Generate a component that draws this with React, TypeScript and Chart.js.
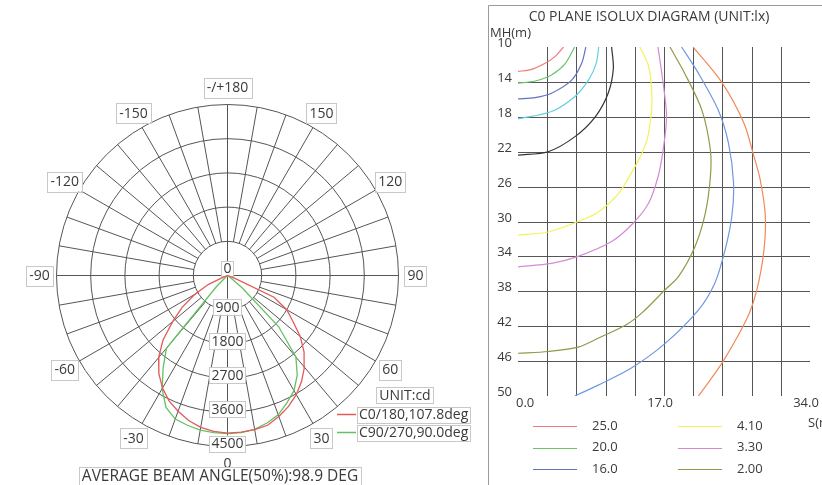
import React, { useEffect, useRef } from "react";
import { Chart, registerables } from "chart.js";

Chart.register(...registerables);

const FONT = '"Open Sans", "Noto Sans", "DejaVu Sans", sans-serif';
const TEXT = "#3a3a3a";
const GRID = "#555555";
const BOX_BORDER = "#c8c8c8";

// ---------------- Polar luminous intensity diagram ----------------
const POLAR_ANGLES = [
  -90, -85, -80, -75, -70, -65, -60, -55, -50, -45, -40, -35, -30, -25, -20, -15, -10, -5,
  0, 5, 10, 15, 20, 25, 30, 35, 40, 45, 50, 55, 60, 65, 70, 75, 80, 85, 90,
];
const C0_180 = [
  0, 0, 0, 0, 100, 550, 1000, 1450, 1880, 2400, 2820, 3150, 3420, 3640, 3800, 3950, 4060, 4120,
  4150, 4140, 4120, 4080, 3950, 3800, 3620, 3400, 3150, 2850, 2500, 2100, 1800, 1350, 150, 0, 0, 0, 0,
];
const C90_270 = [
  0, 0, 0, 0, 0, 0, 0, 0, 30, 400, 2500, 2950, 3440, 3830, 4020, 4080, 4130, 4150,
  4160, 4150, 4110, 4020, 3900, 3700, 3500, 3200, 2800, 1900, 500, 100, 0, 0, 0, 0, 0, 0, 0,
];
const RING_TICKS = [900, 1800, 2700, 3600, 4500];
const ANGLE_TICKS = [0, 30, 60, 90, 120, 150, 180, -150, -120, -90, -60, -30];
const ANGLE_TICK_LABELS = ["0", "30", "60", "90", "120", "150", "-/+180", "-150", "-120", "-90", "-60", "-30"];
const POLAR_SERIES = ["C0/180,107.8deg", "C90/270,90.0deg"];
const POLAR_COLORS = ["#e35a5a", "#62c262"];
const POLAR_UNIT = "UNIT:cd";
const BEAM_TEXT = "AVERAGE BEAM ANGLE(50%):98.9 DEG";

// ---------------- Isolux diagram ----------------
const ISO_LEVELS = ["25.0", "20.0", "16.0", "12.0", "8.00", "4.10", "3.30", "2.00", "1.60", "1.00"];
const ISO_COLORS = ["#f07a7a", "#6cc46c", "#6272c2", "#62cfe0", "#333333", "#f2f25a", "#d58ad5", "#8f9a48", "#6e98e0", "#f08a5a"];
const ISO_25 = [[0, 12.8], [1.5, 12.6], [3.1, 11.9], [4.3, 11.1], [5.3, 10.0]];
const ISO_20 = [[0, 14.15], [2, 13.9], [3.9, 13.2], [5.5, 11.9], [6.6, 10.0]];
const ISO_16 = [[0, 15.95], [2, 15.8], [3.9, 15.3], [6.25, 13.8], [7.4, 11.9], [7.9, 10.0]];
const ISO_12 = [[0, 18.25], [3.9, 17.4], [6.6, 15.7], [8.2, 13.8], [9.1, 11.9], [9.4, 10.0]];
const ISO_8 = [[0, 22.4], [3.5, 22.0], [6.6, 20.3], [9, 18], [10.5, 15.3], [11.1, 12.5], [10.9, 10.0]];
const ISO_4_1 = [[0, 31.55], [3.5, 31.2], [7, 30], [9.35, 28.9], [11.7, 26.8], [13.4, 24.1], [14.6, 21.8], [15.2, 19.9], [15.6, 16.1], [15.2, 12.2], [14.2, 10.0]];
const ISO_3_3 = [[0, 35.2], [3.9, 34.8], [7, 34], [10.9, 32.3], [13.4, 30.2], [15.2, 27.9], [16.3, 24.9], [16.9, 21.8], [17.3, 18], [16.9, 14.15], [16.3, 10.0]];
const ISO_2 = [[0, 45.1], [3.5, 44.9], [7, 44.4], [9.7, 43.2], [12.5, 41.9], [14.4, 40.5], [17.1, 37.85], [18.7, 36.3], [20.6, 32.9], [21.8, 29.1], [22.4, 24.9], [22.4, 21.8], [21.4, 17.2], [19.4, 13], [17.7, 10.0]];
const ISO_1_6 = [[6.6, 50], [9.35, 48.75], [13.2, 46.8], [17.1, 44], [21, 40.15], [22.9, 37.1], [24.1, 33.3], [24.9, 29.4], [25.1, 25.6], [24.5, 21], [23.3, 17.2], [21, 13], [19.05, 10.0]];
const ISO_1 = [[21, 50], [22.5, 48], [23.9, 46], [25.5, 43.3], [26.9, 40.6], [27.8, 37.9], [28.6, 33.6], [28.8, 29.4], [28.2, 25.2], [27.4, 22.3], [26.3, 18.7], [23.7, 14], [20.4, 10.0]];
const ISO_CURVES = [ISO_25, ISO_20, ISO_16, ISO_12, ISO_8, ISO_4_1, ISO_3_3, ISO_2, ISO_1_6, ISO_1];
const MH_TICKS = [10, 14, 18, 22, 26, 30, 34, 38, 42, 46, 50];
const S_GRID = [3.4, 6.8, 10.2, 13.6, 17.0, 20.4, 23.8, 27.2, 30.6];
const S_TICKS = [0, 17, 34];
const S_TICK_LABELS = ["0.0", "17.0", "34.0"];
const ISO_TITLE = "C0 PLANE ISOLUX DIAGRAM (UNIT:lx)";

// ---------------- layout ----------------
const POLAR_W = 485;
const H = 485;
const ISO_W = 337;
const PC_X = 227.5;
const PC_Y = 275.5;
const PX_PER_CD = 171 / 4500;
const LABEL_R = 188 / PX_PER_CD;

function drawBox(ctx: CanvasRenderingContext2D, text: string, x: number, y: number, padX: number, h: number, border: boolean, align: "center" | "left" = "center") {
  const tw = ctx.measureText(text).width;
  const w = tw + padX * 2;
  const left = align === "center" ? x - w / 2 : x;
  ctx.fillStyle = "#ffffff";
  ctx.fillRect(left, y - h / 2, w, h);
  if (border) {
    ctx.strokeStyle = BOX_BORDER;
    ctx.lineWidth = 1;
    ctx.strokeRect(Math.round(left) + 0.5, Math.round(y - h / 2) + 0.5, Math.round(w), Math.round(h));
  }
  ctx.fillStyle = TEXT;
  ctx.textAlign = "left";
  ctx.textBaseline = "middle";
  ctx.fillText(text, left + padX, y + 1);
}

const polarDecor = {
  id: "polarDecor",
  beforeDatasetsDraw(chart: any) {
    const ctx: CanvasRenderingContext2D = chart.ctx;
    const xs = chart.scales.x;
    const ys = chart.scales.y;
    const P = (r: number, deg: number) => {
      const t = (deg * Math.PI) / 180;
      return [xs.getPixelForValue(r * Math.sin(t)), ys.getPixelForValue(-r * Math.cos(t))];
    };
    const cx = xs.getPixelForValue(0);
    const cy = ys.getPixelForValue(0);
    const rmax = RING_TICKS[RING_TICKS.length - 1];
    ctx.save();
    ctx.strokeStyle = GRID;
    ctx.lineWidth = 1;
    for (const v of RING_TICKS) {
      const r = xs.getPixelForValue(v) - cx;
      ctx.beginPath();
      ctx.arc(cx, cy, r, 0, Math.PI * 2);
      ctx.stroke();
    }
    for (let a = 0; a < 360; a += 10) {
      const [x0, y0] = P(a % 90 === 0 ? 0 : RING_TICKS[0], a);
      const [x1, y1] = P(rmax, a);
      ctx.beginPath();
      ctx.moveTo(x0, y0);
      ctx.lineTo(x1, y1);
      ctx.stroke();
    }
    ctx.font = `14px ${FONT}`;
    drawBox(ctx, "0", cx, cy - 7, 2, 15, true);
    RING_TICKS.forEach((v) => {
      const [px, py] = P(v, 0);
      drawBox(ctx, String(v), px, py - 3, 2, 16, true);
    });
    ANGLE_TICKS.forEach((a, i) => {
      const [px, py] = P(LABEL_R, a);
      drawBox(ctx, ANGLE_TICK_LABELS[i], px, py, 3, 20, a !== 0);
    });
    ctx.restore();
  },
  afterDatasetsDraw(chart: any) {
    const ctx: CanvasRenderingContext2D = chart.ctx;
    ctx.save();
    ctx.font = `14px ${FONT}`;
    drawBox(ctx, POLAR_UNIT, 405, 395, 3, 16, true);
    POLAR_SERIES.forEach((label, i) => {
      const y = 414.5 + i * 18;
      ctx.strokeStyle = POLAR_COLORS[i];
      ctx.lineWidth = 1.5;
      ctx.beginPath();
      ctx.moveTo(337, y);
      ctx.lineTo(356, y);
      ctx.stroke();
      drawBox(ctx, label, 357, y, 2, 16, true, "left");
    });
    ctx.font = `15.5px ${FONT}`;
    drawBox(ctx, BEAM_TEXT, 220, 476, 3, 18, true);
    ctx.restore();
  },
};

const isoDecor = {
  id: "isoDecor",
  beforeDatasetsDraw(chart: any) {
    const ctx: CanvasRenderingContext2D = chart.ctx;
    const xs = chart.scales.x;
    const ys = chart.scales.y;
    ctx.save();
    ctx.strokeStyle = "#9a9a9a";
    ctx.lineWidth = 1;
    ctx.beginPath();
    ctx.moveTo(3.5, H);
    ctx.lineTo(3.5, 5.5);
    ctx.lineTo(ISO_W, 5.5);
    ctx.stroke();

    ctx.strokeStyle = GRID;
    const yTop = ys.getPixelForValue(MH_TICKS[0]);
    const yBot = ys.getPixelForValue(MH_TICKS[MH_TICKS.length - 1]);
    const xL = xs.getPixelForValue(S_TICKS[0]);
    const xR = xs.getPixelForValue(S_TICKS[S_TICKS.length - 1]);
    for (const s of S_GRID) {
      const x = Math.round(xs.getPixelForValue(s)) + 0.5;
      ctx.beginPath();
      ctx.moveTo(x, yTop);
      ctx.lineTo(x, yBot);
      ctx.stroke();
    }
    for (const m of MH_TICKS.slice(1, -1)) {
      const y = Math.round(ys.getPixelForValue(m)) + 0.5;
      ctx.beginPath();
      ctx.moveTo(xL, y);
      ctx.lineTo(xR, y);
      ctx.stroke();
    }

    ctx.fillStyle = TEXT;
    ctx.font = `13px ${FONT}`;
    ctx.textAlign = "right";
    ctx.textBaseline = "alphabetic";
    MH_TICKS.forEach((m) => ctx.fillText(String(m), 27, ys.getPixelForValue(m)));
    ctx.textBaseline = "middle";
    S_TICKS.forEach((s, i) => {
      const px = xs.getPixelForValue(s);
      if (i === 0) {
        ctx.textAlign = "left";
        ctx.fillText(S_TICK_LABELS[i], px - 2, 403);
      } else {
        ctx.textAlign = "center";
        ctx.fillText(S_TICK_LABELS[i], px - 4, 403);
      }
    });
    ctx.textAlign = "left";
    ctx.fillText("MH(m)", 5, 33);
    ctx.fillText("S(m)", 323, 423);
    ctx.font = `14px ${FONT}`;
    ctx.textAlign = "center";
    ctx.fillText(ISO_TITLE, 164, 17);
    ctx.restore();
  },
  afterDraw(chart: any) {
    const ctx: CanvasRenderingContext2D = chart.ctx;
    ctx.save();
    ctx.font = `13px ${FONT}`;
    ctx.textBaseline = "middle";
    ctx.textAlign = "left";
    ISO_LEVELS.forEach((lv, i) => {
      const col = i < 5 ? 0 : 1;
      const row = i % 5;
      const y = 426 + row * 21.7;
      const lx = col === 0 ? 48 : 193;
      ctx.strokeStyle = ISO_COLORS[i];
      ctx.lineWidth = 1.2;
      ctx.beginPath();
      ctx.moveTo(lx, Math.round(y) + 0.5);
      ctx.lineTo(lx + 44, Math.round(y) + 0.5);
      ctx.stroke();
      ctx.fillStyle = TEXT;
      ctx.fillText(lv, lx + 59, y);
    });
    ctx.restore();
  },
};

export default function App() {
  const polarRef = useRef<HTMLCanvasElement | null>(null);
  const isoRef = useRef<HTMLCanvasElement | null>(null);

  useEffect(() => {
    const toXY = (vals: number[]) =>
      vals.map((v, i) => {
        const t = (POLAR_ANGLES[i] * Math.PI) / 180;
        return { x: v * Math.sin(t), y: -v * Math.cos(t) };
      });
    const polar = new Chart(polarRef.current as HTMLCanvasElement, {
      type: "scatter",
      data: {
        datasets: [C0_180, C90_270].map((vals, i) => ({
          label: POLAR_SERIES[i],
          data: toXY(vals),
          showLine: true,
          borderColor: POLAR_COLORS[i],
          borderWidth: 1.3,
          pointRadius: 0,
          tension: 0,
          fill: false,
        })),
      },
      options: {
        responsive: false,
        maintainAspectRatio: false,
        animation: false,
        events: [],
        layout: { padding: 0 },
        plugins: { legend: { display: false }, tooltip: { enabled: false }, title: { display: false } },
        scales: {
          x: { type: "linear", display: false, min: -PC_X / PX_PER_CD, max: (POLAR_W - PC_X) / PX_PER_CD },
          y: { type: "linear", display: false, min: -(H - PC_Y) / PX_PER_CD, max: PC_Y / PX_PER_CD },
        },
      } as any,
      plugins: [polarDecor],
    });

    const iso = new Chart(isoRef.current as HTMLCanvasElement, {
      type: "scatter",
      data: {
        datasets: ISO_CURVES.map((pts, i) => ({
          label: ISO_LEVELS[i],
          data: pts.map(([s, m]) => ({ x: s, y: m })),
          showLine: true,
          borderColor: ISO_COLORS[i],
          borderWidth: 1.2,
          pointRadius: 0,
          tension: 0.3,
          fill: false,
        })),
      },
      options: {
        responsive: false,
        maintainAspectRatio: false,
        animation: false,
        events: [],
        layout: { padding: { left: 33, right: 12, top: 47, bottom: 89 } },
        plugins: { legend: { display: false }, tooltip: { enabled: false }, title: { display: false } },
        scales: {
          x: { type: "linear", display: false, min: 0, max: 34 },
          y: { type: "linear", display: false, reverse: true, min: 10, max: 50 },
        },
      } as any,
      plugins: [isoDecor],
    });

    return () => {
      polar.destroy();
      iso.destroy();
    };
  }, []);

  return (
    <div style={{ position: "absolute", left: 0, top: 0, width: 822, height: H, background: "#fff", overflow: "hidden" }}>
      <canvas ref={polarRef} width={POLAR_W} height={H} style={{ position: "absolute", left: 0, top: 0, width: POLAR_W, height: H }} />
      <canvas ref={isoRef} width={ISO_W} height={H} style={{ position: "absolute", left: POLAR_W, top: 0, width: ISO_W, height: H }} />
    </div>
  );
}
